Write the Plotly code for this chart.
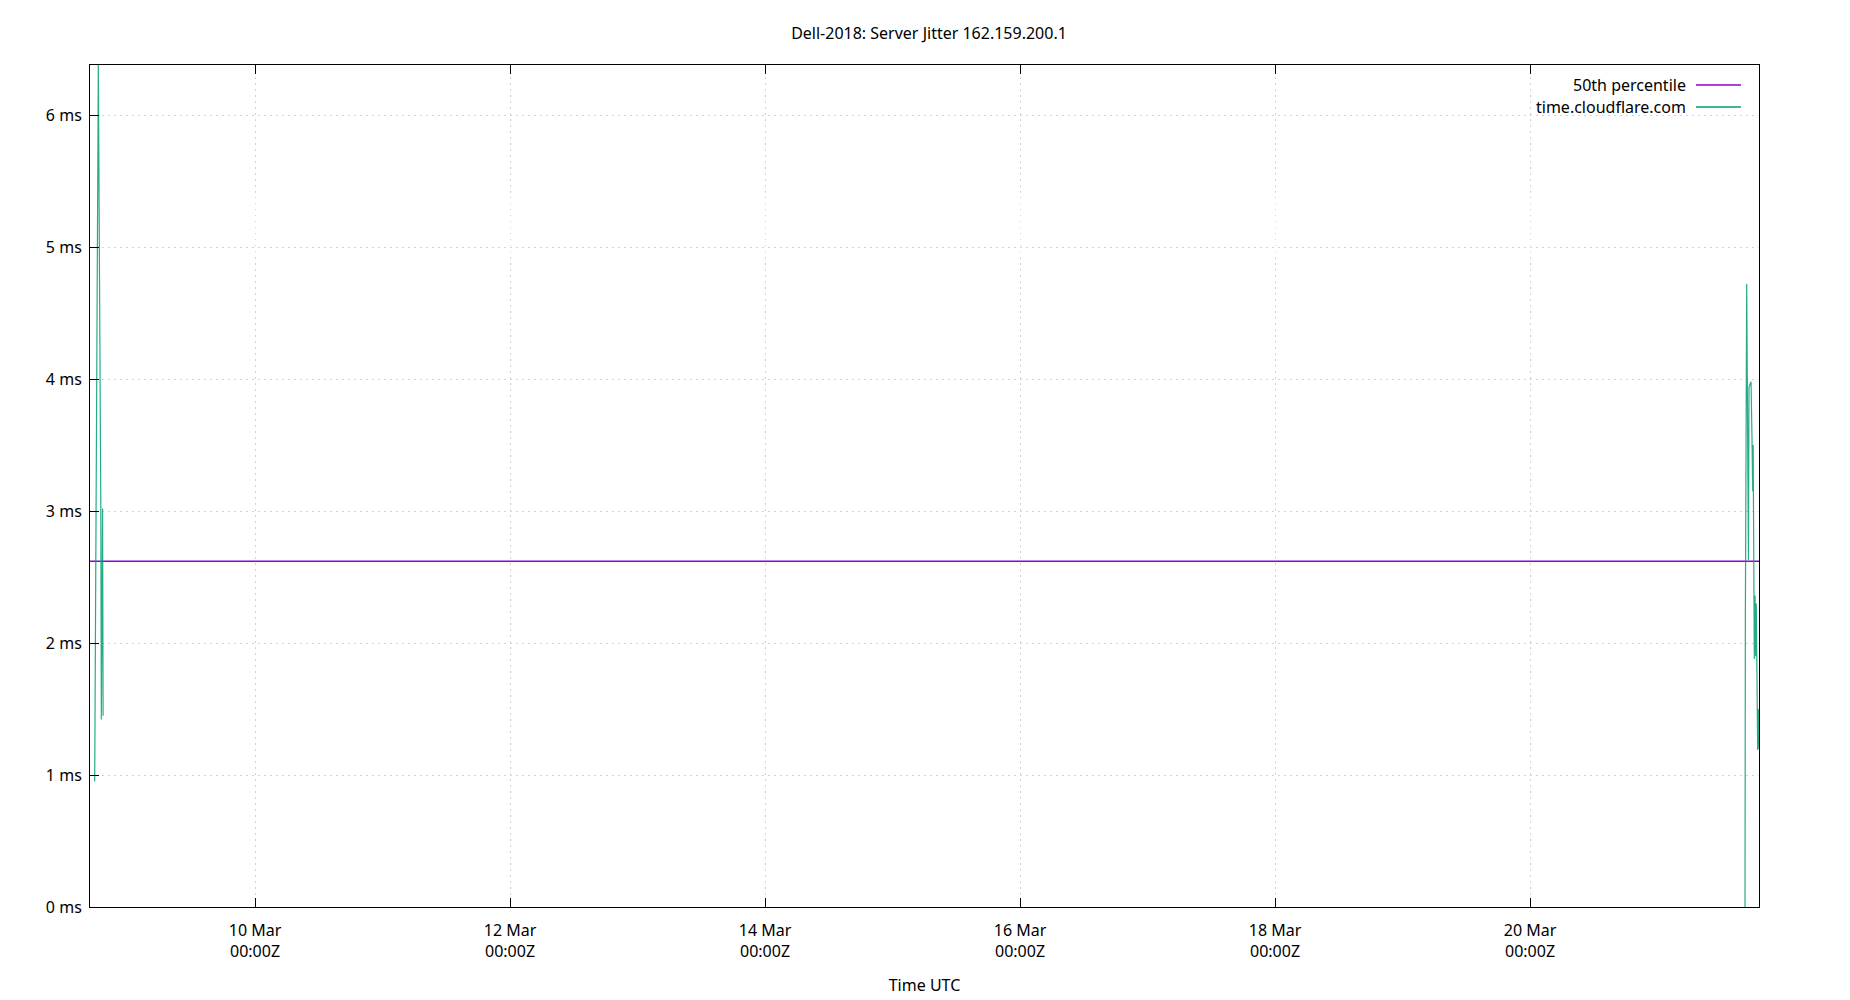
import plotly.graph_objects as go

# jitter samples for time.cloudflare.com (ms), None = no data in between
jitterTimes = [
    "2025-03-08 17:49", "2025-03-08 17:55", "2025-03-08 18:30", "2025-03-08 18:58",
    "2025-03-08 19:04", "2025-03-08 19:18", "2025-03-08 19:24",
    "2025-03-15 00:00",
    "2025-03-21 16:28", "2025-03-21 16:32", "2025-03-21 16:47", "2025-03-21 17:07",
    "2025-03-21 17:13", "2025-03-21 17:36", "2025-03-21 17:47", "2025-03-21 17:55",
    "2025-03-21 18:00", "2025-03-21 18:13", "2025-03-21 18:21", "2025-03-21 18:29",
    "2025-03-21 18:35", "2025-03-21 18:51", "2025-03-21 18:58", "2025-03-21 19:06",
]
jitterMs = [
    0.95, 1.78, 6.38, 3.05,
    1.42, 3.02, 1.45,
    None,
    0.0, 2.18, 4.72, 2.63,
    3.94, 3.98, 3.55, 3.15,
    3.50, 1.88, 2.36, 1.90,
    2.30, 1.19, 1.50, 1.20,
]

# median line over whole period
medianTimes = ["2025-03-08 16:56", "2025-03-21 19:06"]
medianMs = [2.62, 2.62]

yTicks = [0, 1, 2, 3, 4, 5, 6]
yTickText = ["0 ms", "1 ms", "2 ms", "3 ms", "4 ms", "5 ms", "6 ms"]
xTicks = ["2025-03-10", "2025-03-12", "2025-03-14", "2025-03-16", "2025-03-18", "2025-03-20"]
xTickText = ["10 Mar<br>00:00Z", "12 Mar<br>00:00Z", "14 Mar<br>00:00Z",
             "16 Mar<br>00:00Z", "18 Mar<br>00:00Z", "20 Mar<br>00:00Z"]

seriesNames = ["50th percentile", "time.cloudflare.com"]
seriesColors = ["#9400d3", "#009e73"]

fontName = "Noto Sans"

# page body has an 8px margin, so frame is placed to land at 90..1759 x 65..907
plotLeft, plotRight, plotTop, plotBottom = 90, 1759, 65, 907
pw = float(plotRight - plotLeft)
ph = float(plotBottom - plotTop)


def px(x):
    return (x - plotLeft) / pw


def py(y):
    return (plotBottom - y) / ph


fig = go.Figure()
fig.add_trace(go.Scatter(x=medianTimes, y=medianMs, mode="lines",
                         line=dict(color=seriesColors[0], width=1.3),
                         name=seriesNames[0], showlegend=False))
fig.add_trace(go.Scatter(x=jitterTimes, y=jitterMs, mode="lines",
                         line=dict(color=seriesColors[1], width=1.2),
                         connectgaps=False, opacity=0.85,
                         name=seriesNames[1], showlegend=False))

# key box hides the grid behind it
fig.add_shape(type="rect", xref="paper", yref="paper", layer="between",
              x0=px(1530), x1=px(1748), y0=py(119), y1=py(70),
              fillcolor="white", line=dict(width=0))

# gnuplot style key: text then line sample, top right inside the frame
keyY = [85, 107]
for i in range(len(seriesNames)):
    fig.add_annotation(xref="paper", yref="paper", x=px(1688), y=py(keyY[i]),
                       text=seriesNames[i], showarrow=False, xanchor="right", yanchor="middle",
                       font=dict(family=fontName, size=16, color="#000000"))
    fig.add_shape(type="line", xref="paper", yref="paper",
                  x0=px(1696), x1=px(1741), y0=py(keyY[i]), y1=py(keyY[i]),
                  line=dict(color=seriesColors[i], width=1.3))

fig.update_layout(
    width=1842, height=992,
    margin=dict(l=plotLeft - 8, r=1842 + 8 - plotRight, t=plotTop - 8, b=992 + 8 - plotBottom),
    paper_bgcolor="white", plot_bgcolor="white",
    font=dict(family=fontName, size=16, color="#000000"),
    title=dict(text="Dell-2018: Server Jitter 162.159.200.1", x=0.5, xanchor="center",
               y=1 - 25 / 992.0, yanchor="middle", font=dict(size=16)),
    showlegend=False,
)
fig.update_xaxes(
    type="date", range=[medianTimes[0], medianTimes[-1]],
    tickvals=xTicks, ticktext=xTickText, tickfont=dict(size=16),
    ticks="inside", ticklen=9, tickcolor="#000000",
    showline=True, linecolor="#000000", linewidth=1, mirror="allticks",
    showgrid=True, gridcolor="#d2d2d2", griddash="1.5px,4.5px", gridwidth=1,
    zeroline=False, ticklabelstandoff=9, automargin=False,
    title=dict(text="Time UTC", standoff=18, font=dict(size=16)),
)
fig.update_yaxes(
    range=[0, 6.38], tickvals=yTicks, ticktext=yTickText, tickfont=dict(size=16),
    ticks="inside", ticklen=9, tickcolor="#000000",
    showline=True, linecolor="#000000", linewidth=1, mirror=True,
    showgrid=True, gridcolor="#d2d2d2", griddash="1.5px,4.5px", gridwidth=1,
    zeroline=False, ticklabelstandoff=4, automargin=False,
)

fig.write_html("out.html")
